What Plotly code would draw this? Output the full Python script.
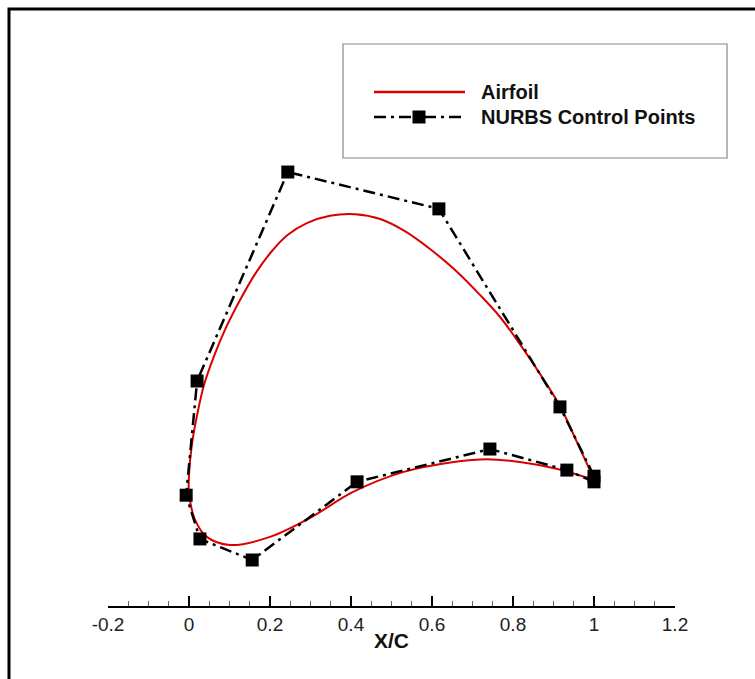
import plotly.graph_objects as go

# ---------------- data ----------------
ctrl_x = [1.000, 0.916, 0.617, 0.244, 0.020, -0.007, 0.027, 0.156, 0.415, 0.743, 0.933, 1.000]
ctrl_y = [0.007, 0.178, 0.667, 0.758, 0.242, -0.040, -0.148, -0.200, -0.007, 0.074, 0.022, -0.007]

foil_x = [1.000, 0.958, 0.916, 0.867, 0.817, 0.768, 0.719, 0.657, 0.595, 0.533, 0.472, 0.410,
          0.348, 0.291, 0.244, 0.205, 0.165, 0.126, 0.091, 0.062, 0.037, 0.020, 0.007, 0.000,
          0.000, 0.015, 0.044, 0.101, 0.200, 0.299, 0.405, 0.528, 0.654, 0.736, 0.817, 0.899, 1.000]
foil_y = [0.000, 0.091, 0.180, 0.259, 0.333, 0.400, 0.454, 0.516, 0.568, 0.612, 0.642, 0.654,
          0.650, 0.632, 0.603, 0.563, 0.509, 0.442, 0.373, 0.304, 0.232, 0.158, 0.084, 0.010,
          -0.035, -0.101, -0.143, -0.163, -0.143, -0.096, -0.032, 0.017, 0.042, 0.049, 0.042, 0.027, -0.002]

x_ticks = [-0.2, 0, 0.2, 0.4, 0.6, 0.8, 1, 1.2]
x_tick_labels = ["-0.2", "0", "0.2", "0.4", "0.6", "0.8", "1", "1.2"]

series_names = ["Airfoil", "NURBS Control Points"]

# ---------------- layout geometry ----------------
W, H = 755, 679
L, R, T, B = 108, 80, 20, 73
PW, PH = W - L - R, H - T - B
FONT = "Arial, Liberation Sans, sans-serif"
RED = "#DA0000"
DASH = "12px,5px,3px,5px"


def px(xp):
    return (xp - L) / PW


def py(yp):
    return (H - B - yp) / PH


fig = go.Figure()
fig.add_trace(go.Scatter(x=foil_x, y=foil_y, mode="lines", name=series_names[0],
                         line=dict(color=RED, width=2, shape="spline", smoothing=1.0),
                         showlegend=False))
fig.add_trace(go.Scatter(x=ctrl_x, y=ctrl_y, mode="lines+markers", name=series_names[1],
                         line=dict(color="black", width=2.5, dash=DASH),
                         marker=dict(symbol="square", size=13, color="black"),
                         showlegend=False))

shapes = []
# outer frame
shapes.append(dict(type="rect", xref="paper", yref="paper",
                   x0=px(9), x1=px(800), y0=py(9), y1=py(720),
                   line=dict(color="black", width=3), fillcolor="rgba(0,0,0,0)"))
# legend box
shapes.append(dict(type="rect", xref="paper", yref="paper",
                   x0=px(343), x1=px(727), y0=py(44), y1=py(158),
                   line=dict(color="#888888", width=1.2), fillcolor="white"))
# legend samples
shapes.append(dict(type="line", xref="paper", yref="paper",
                   x0=px(374), x1=px(465), y0=py(92), y1=py(92),
                   line=dict(color=RED, width=2.5)))
shapes.append(dict(type="line", xref="paper", yref="paper",
                   x0=px(374), x1=px(465), y0=py(117), y1=py(117),
                   line=dict(color="black", width=2.5, dash=DASH)))
shapes.append(dict(type="rect", xref="paper", yref="paper",
                   x0=px(412.5), x1=px(425.5), y0=py(110.5), y1=py(123.5),
                   line=dict(color="black", width=0), fillcolor="black"))

annotations = [
    dict(xref="paper", yref="paper", x=px(479), y=py(92), xanchor="left", yanchor="middle",
         text="<b>" + series_names[0] + "</b>", showarrow=False,
         font=dict(family=FONT, size=20, color="#111")),
    dict(xref="paper", yref="paper", x=px(479), y=py(117), xanchor="left", yanchor="middle",
         text="<b>" + series_names[1] + "</b>", showarrow=False,
         font=dict(family=FONT, size=20, color="#111")),
]

fig.update_layout(
    width=W, height=H,
    margin=dict(l=L, r=R, t=T, b=B),
    paper_bgcolor="white", plot_bgcolor="white",
    shapes=shapes, annotations=annotations,
    showlegend=False,
    xaxis=dict(range=[-0.2, 1.2], tickvals=x_ticks, ticktext=x_tick_labels,
               showgrid=False, zeroline=False, showline=True, linecolor="black", linewidth=2,
               ticks="inside", ticklen=10, tickwidth=2, tickcolor="black",
               minor=dict(ticks="inside", ticklen=5, tickwidth=1, tickcolor="#666", dtick=0.05, tick0=0),
               tickfont=dict(family=FONT, size=19, color="#222"),
               title=dict(text="<b>X/C</b>", font=dict(family=FONT, size=21, color="#111"), standoff=0)),
    yaxis=dict(range=[(479 - (H - B)) / 405, (479 - T) / 405], visible=False,
               showgrid=False, zeroline=False),
)

fig.write_html("out.html")
